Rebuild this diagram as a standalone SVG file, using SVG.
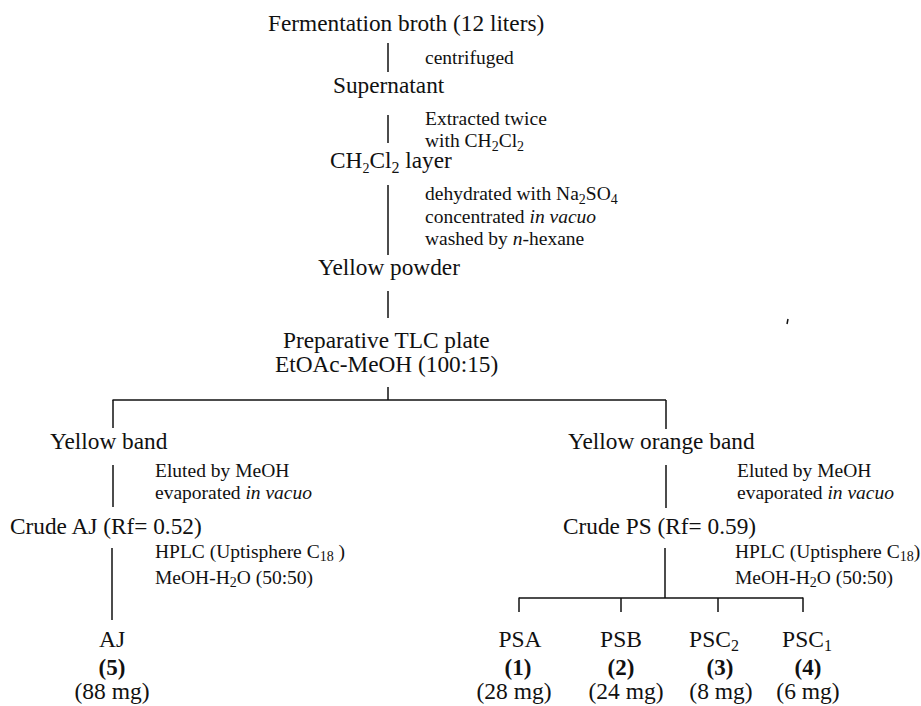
<svg xmlns="http://www.w3.org/2000/svg" width="921" height="706" viewBox="0 0 921 706">
<style>
text{font-family:"Liberation Serif","Times New Roman",serif;fill:#111}
.m{font-size:23.3px}
.s{font-size:19.5px}
.b{font-size:23.5px;text-anchor:middle}
.bb{font-size:23px;font-weight:bold;text-anchor:middle}
.sub{font-size:14px}
.c line{stroke:#111;stroke-width:1.5;fill:none}
</style>
<rect width="921" height="706" fill="#fff"/>
<g class="c" id="connectors">
<line x1="388" y1="43" x2="388" y2="72"/>
<line x1="388" y1="115" x2="388" y2="143"/>
<line x1="388" y1="185" x2="388" y2="255"/>
<line x1="388" y1="291" x2="388" y2="318"/>
<line x1="388" y1="387" x2="388" y2="400"/>
<line x1="112.5" y1="400" x2="666" y2="400"/>
<line x1="113" y1="400" x2="113" y2="428"/>
<line x1="666" y1="400" x2="666" y2="429"/>
<line x1="113" y1="465" x2="113" y2="507"/>
<line x1="666" y1="465" x2="666" y2="508"/>
<line x1="112" y1="548" x2="112" y2="620"/>
<line x1="665" y1="548" x2="665" y2="598"/>
<line x1="519" y1="598" x2="803" y2="598"/>
<line x1="519" y1="597.5" x2="519" y2="612"/>
<line x1="621" y1="598" x2="621" y2="612"/>
<line x1="718" y1="598" x2="718" y2="612"/>
<line x1="803" y1="597.5" x2="803" y2="612"/>
<line x1="788" y1="319" x2="787" y2="324"/>
</g>
<g id="broth"><text class="m" x="268" y="31">Fermentation broth (12 liters)</text></g>
<g id="step-centrifuged"><text class="s" x="425" y="64">centrifuged</text></g>
<g id="supernatant"><text class="m" x="333" y="93">Supernatant</text></g>
<g id="step-extracted">
<text class="s" x="425" y="125">Extracted twice</text>
<text class="s" x="425" y="147">with CH<tspan class="sub" dy="4">2</tspan><tspan dy="-4">Cl</tspan><tspan class="sub" dy="4">2</tspan></text>
</g>
<g id="ch2cl2-layer"><text class="m" x="330" y="168">CH<tspan class="sub" font-size="16" dy="5">2</tspan><tspan dy="-5">Cl</tspan><tspan font-size="16" dy="5">2</tspan><tspan dy="-5"> layer</tspan></text></g>
<g id="step-dehydrated">
<text class="s" x="425" y="200">dehydrated with Na<tspan class="sub" dy="4">2</tspan><tspan dy="-4">SO</tspan><tspan class="sub" dy="4">4</tspan></text>
<text class="s" x="425" y="223">concentrated <tspan font-style="italic">in vacuo</tspan></text>
<text class="s" x="425" y="245">washed by <tspan font-style="italic">n</tspan>-hexane</text>
</g>
<g id="yellow-powder"><text class="m" x="318" y="275">Yellow powder</text></g>
<g id="tlc">
<text class="m" x="283" y="348">Preparative TLC plate</text>
<text class="m" x="275" y="372">EtOAc-MeOH (100:15)</text>
</g>
<g id="yellow-band"><text class="m" x="50" y="449">Yellow band</text></g>
<g id="yellow-orange-band"><text class="m" x="568" y="449">Yellow orange band</text></g>
<g id="step-eluted-left">
<text class="s" x="155" y="477">Eluted by MeOH</text>
<text class="s" x="155" y="499">evaporated <tspan font-style="italic">in vacuo</tspan></text>
</g>
<g id="step-eluted-right">
<text class="s" x="737" y="477">Eluted by MeOH</text>
<text class="s" x="737" y="499">evaporated <tspan font-style="italic">in vacuo</tspan></text>
</g>
<g id="crude-aj"><text class="m" x="10" y="534">Crude AJ (Rf= 0.52)</text></g>
<g id="crude-ps"><text class="m" x="563" y="534">Crude PS (Rf= 0.59)</text></g>
<g id="step-hplc-left">
<text class="s" x="155" y="558">HPLC (Uptisphere C<tspan class="sub" dy="3">18</tspan><tspan dy="-3"> )</tspan></text>
<text class="s" x="155" y="584">MeOH-H<tspan class="sub" dy="3">2</tspan><tspan dy="-3">O (50:50)</tspan></text>
</g>
<g id="step-hplc-right">
<text class="s" x="735" y="558">HPLC (Uptisphere C<tspan class="sub" dy="3">18</tspan><tspan dy="-3">)</tspan></text>
<text class="s" x="735" y="584">MeOH-H<tspan class="sub" dy="3">2</tspan><tspan dy="-3">O (50:50)</tspan></text>
</g>
<g id="aj">
<text class="b" x="112" y="647">AJ</text>
<text class="bb" x="112" y="675">(5)</text>
<text class="b" x="112" y="699">(88 mg)</text>
</g>
<g id="psa">
<text class="b" x="520" y="647">PSA</text>
<text class="bb" x="518" y="675">(1)</text>
<text class="b" x="514" y="699">(28 mg)</text>
</g>
<g id="psb">
<text class="b" x="621" y="647">PSB</text>
<text class="bb" x="621" y="675">(2)</text>
<text class="b" x="626" y="699">(24 mg)</text>
</g>
<g id="psc2">
<text class="b" x="714" y="647">PSC<tspan font-size="16" dy="4">2</tspan></text>
<text class="bb" x="720" y="675">(3)</text>
<text class="b" x="721" y="699">(8 mg)</text>
</g>
<g id="psc1">
<text class="b" x="807" y="647">PSC<tspan font-size="16" dy="4">1</tspan></text>
<text class="bb" x="808" y="675">(4)</text>
<text class="b" x="808" y="699">(6 mg)</text>
</g>
</svg>
